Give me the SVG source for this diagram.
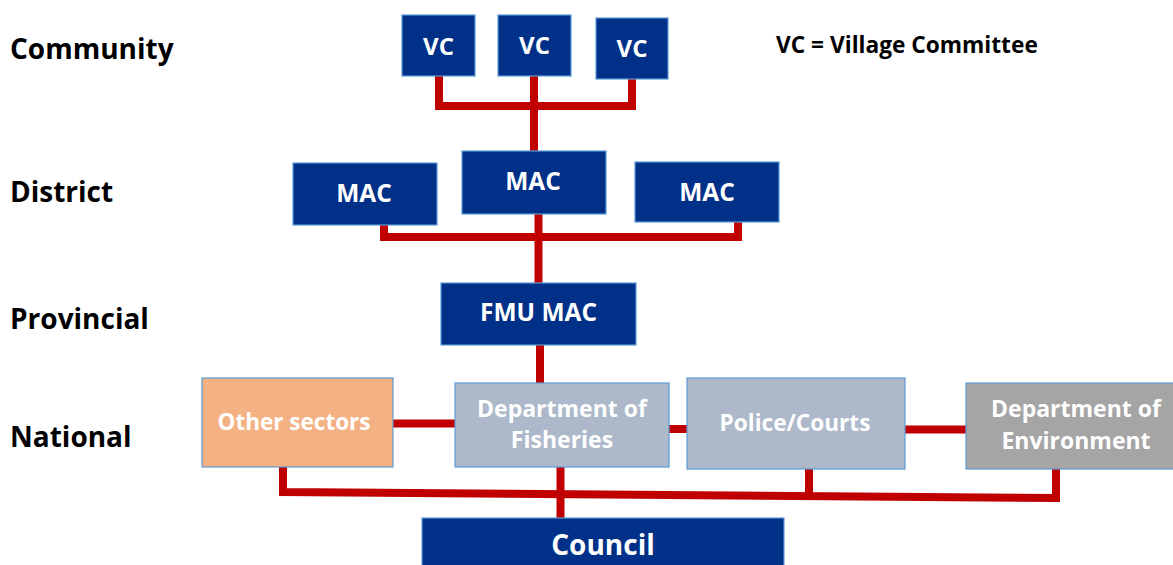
<svg xmlns="http://www.w3.org/2000/svg" width="1173" height="565" viewBox="0 0 1173 565">
<style>
.lvl{font-family:"Open Sans","Liberation Sans",sans-serif;font-weight:bold;font-size:28px;fill:#000}
.note{font-family:"Open Sans","Liberation Sans",sans-serif;font-weight:bold;font-size:22.7px;fill:#000}
.box{stroke:#5b9bd5;stroke-width:1.2}
.blue{fill:#003087}
.orange{fill:#f4b183}
.grayblue{fill:#adb9ca}
.gray{fill:#a5a5a5}
.t{font-family:"Open Sans","Liberation Sans",sans-serif;font-weight:bold;fill:#fff;text-anchor:middle}
.conn{fill:none;stroke:#c00000;stroke-width:8;stroke-linejoin:miter;stroke-linecap:butt}
</style>
<rect width="1173" height="565" fill="#fff"/>
<g id="labels">
<text class="lvl" x="10" y="59">Community</text>
<text class="lvl" x="10" y="202">District</text>
<text class="lvl" x="10" y="329">Provincial</text>
<text class="lvl" x="10" y="447">National</text>
<text class="note" x="776" y="53">VC = Village Committee</text>
</g>
<g id="connectors">
<path class="conn" d="M439 76 V106 H632 V79"/>
<path class="conn" d="M534 76 V152"/>
<path class="conn" d="M384 225 V237 H738 V222"/>
<path class="conn" d="M538.5 214 V283"/>
<path class="conn" d="M540 345 V383"/>
<path class="conn" d="M393 423.5 H455"/>
<path class="conn" d="M669 429 H687"/>
<path class="conn" d="M905 429.5 H966"/>
<path class="conn" d="M283 467 V492 L1056 498 V469"/>
<path class="conn" d="M809 469 V496"/>
<path class="conn" d="M560.5 467 V518"/>
</g>
<g id="vc1"><rect class="box blue" x="402" y="15" width="73" height="61"/><text class="t" x="438.5" y="55" font-size="24">VC</text></g>
<g id="vc2"><rect class="box blue" x="498" y="15" width="73" height="61"/><text class="t" x="534.5" y="54" font-size="24">VC</text></g>
<g id="vc3"><rect class="box blue" x="596" y="18" width="72" height="61"/><text class="t" x="632" y="57" font-size="24">VC</text></g>
<g id="mac1"><rect class="box blue" x="293" y="163" width="144" height="62"/><text class="t" x="364" y="202" font-size="24.5">MAC</text></g>
<g id="mac2"><rect class="box blue" x="462" y="151" width="144" height="63"/><text class="t" x="533" y="190" font-size="24.5">MAC</text></g>
<g id="mac3"><rect class="box blue" x="635" y="162" width="144" height="60"/><text class="t" x="707" y="201" font-size="24.5">MAC</text></g>
<g id="fmu"><rect class="box blue" x="441" y="283" width="195" height="62"/><text class="t" x="538.5" y="321" font-size="24.5">FMU MAC</text></g>
<g id="other"><rect class="box orange" x="202" y="378" width="191" height="89"/><text class="t" x="294" y="430" font-size="22.5">Other sectors</text></g>
<g id="fisheries"><rect class="box grayblue" x="455" y="383" width="214" height="84"/><text class="t" x="562" y="417" font-size="23">Department of</text><text class="t" x="562" y="448" font-size="23">Fisheries</text></g>
<g id="police"><rect class="box grayblue" x="687" y="378" width="218" height="91"/><text class="t" x="795" y="431" font-size="22.6">Police/Courts</text></g>
<g id="environment"><rect class="box gray" x="966" y="383" width="210" height="86"/><text class="t" x="1076" y="417" font-size="23">Department of</text><text class="t" x="1076" y="449" font-size="23">Environment</text></g>
<g id="council"><rect class="box blue" x="422" y="518" width="362" height="52"/><text class="t" x="603" y="555" font-size="28">Council</text></g>
</svg>
